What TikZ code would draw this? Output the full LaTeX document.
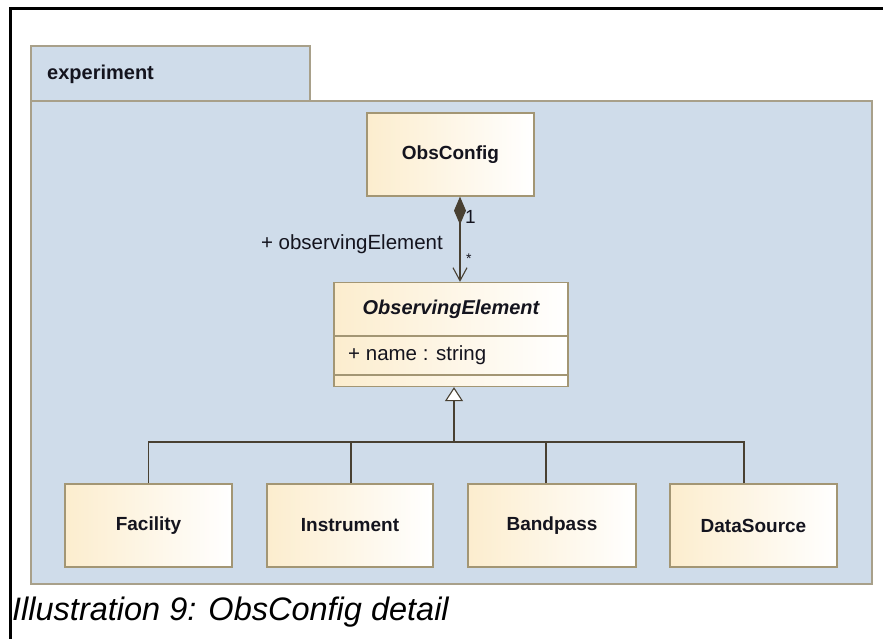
\documentclass[tikz,border=0pt]{standalone}
\usepackage{fontspec}
\setmainfont{Liberation Sans}
\usetikzlibrary{arrows.meta}
\definecolor{pkgfill}{RGB}{207,220,234}
\definecolor{pkgline}{RGB}{168,160,138}
\definecolor{clsfill}{RGB}{252,237,206}
\definecolor{clsline}{RGB}{163,150,116}
\definecolor{wire}{RGB}{72,64,50}
\definecolor{txt}{RGB}{20,20,30}
\begin{document}
\begin{tikzpicture}[x=1pt,y=-1pt,
  classbox/.style={draw=clsline, line width=1.3pt, left color=clsfill, right color=white,
    inner sep=0pt, text=txt, font=\fontsize{19}{20}\selectfont\bfseries},
  wireline/.style={draw=wire, line width=1.1pt},
  lbl/.style={inner sep=0pt, text=txt, font=\fontsize{20.5}{22}\selectfont}]
\useasboundingbox (0,0) rectangle (883,639);
% outer frame
\draw[line width=3pt] (10,639) -- (10,8.5) -- (883,8.5);
% package
\draw[fill=pkgfill, draw=pkgline, line width=1.4pt] (31,46) rectangle (310,101);
\draw[fill=pkgfill, draw=pkgline, line width=1.4pt] (31,101) rectangle (872,584);
\node[lbl, anchor=base west, font=\fontsize{20}{22}\selectfont\bfseries] (pk) at (47,80) {experiment};
% classes
\node[classbox, minimum width=167pt, minimum height=83pt] (oc) at (450.5,154.5) {ObsConfig};
\node[classbox, minimum width=234pt, minimum height=104pt] (oe) at (451,334.5) {};
\node[lbl, font=\fontsize{20}{22}\selectfont\bfseries\itshape] (oet) at (451,309) {ObservingElement};
\node[lbl, anchor=west] (oea) at (348,355) {+ name : string};
\draw[draw=clsline, line width=1.3pt] ([yshift=-54pt]oe.north west) -- ([yshift=-54pt]oe.north east);
\draw[draw=clsline, line width=1.3pt] ([yshift=-93pt]oe.north west) -- ([yshift=-93pt]oe.north east);
\node[classbox, minimum width=167pt, minimum height=83pt] (fa) at (148.5,525.5) {Facility};
\node[classbox, minimum width=166pt, minimum height=83pt] (in) at (350,525.5) {Instrument};
\node[classbox, minimum width=168pt, minimum height=83pt] (bp) at (552,525.5) {Bandpass};
\node[classbox, minimum width=167pt, minimum height=83pt] (ds) at (753.5,525.5) {DataSource};
% composition
\draw[wireline, {Diamond[length=28pt,width=12pt,fill=wire]}-{Straight Barb[length=13pt,width=14pt]}]
  ([xshift=9.5pt]oc.south) -- ([xshift=9pt]oe.north);
\node[lbl, anchor=east] (role) at (443,244) {+ observingElement};
\node[lbl, anchor=west, font=\fontsize{19}{20}\selectfont] (m1) at (465,217) {1};
\node[lbl, anchor=west, font=\fontsize{14}{16}\selectfont] (m2) at (466,259) {*};
% generalization
\coordinate (j) at (454,442);
\draw[wireline, {Triangle[open,length=14pt,width=18pt,fill=white]}-] ([xshift=3pt]oe.south) -- (j);
\draw[wireline] (fa.north) |- (j);
\draw[wireline] ([xshift=1pt]in.north) |- (j);
\draw[wireline] ([xshift=-6pt]bp.north) |- (j);
\draw[wireline] ([xshift=-9.5pt]ds.north) |- (j);
% caption
\node[anchor=base west, inner sep=0pt, font=\fontsize{32.5}{36}\selectfont\itshape] (cap) at (12,620) {Illustration 9: ObsConfig detail};
\end{tikzpicture}
\end{document}
